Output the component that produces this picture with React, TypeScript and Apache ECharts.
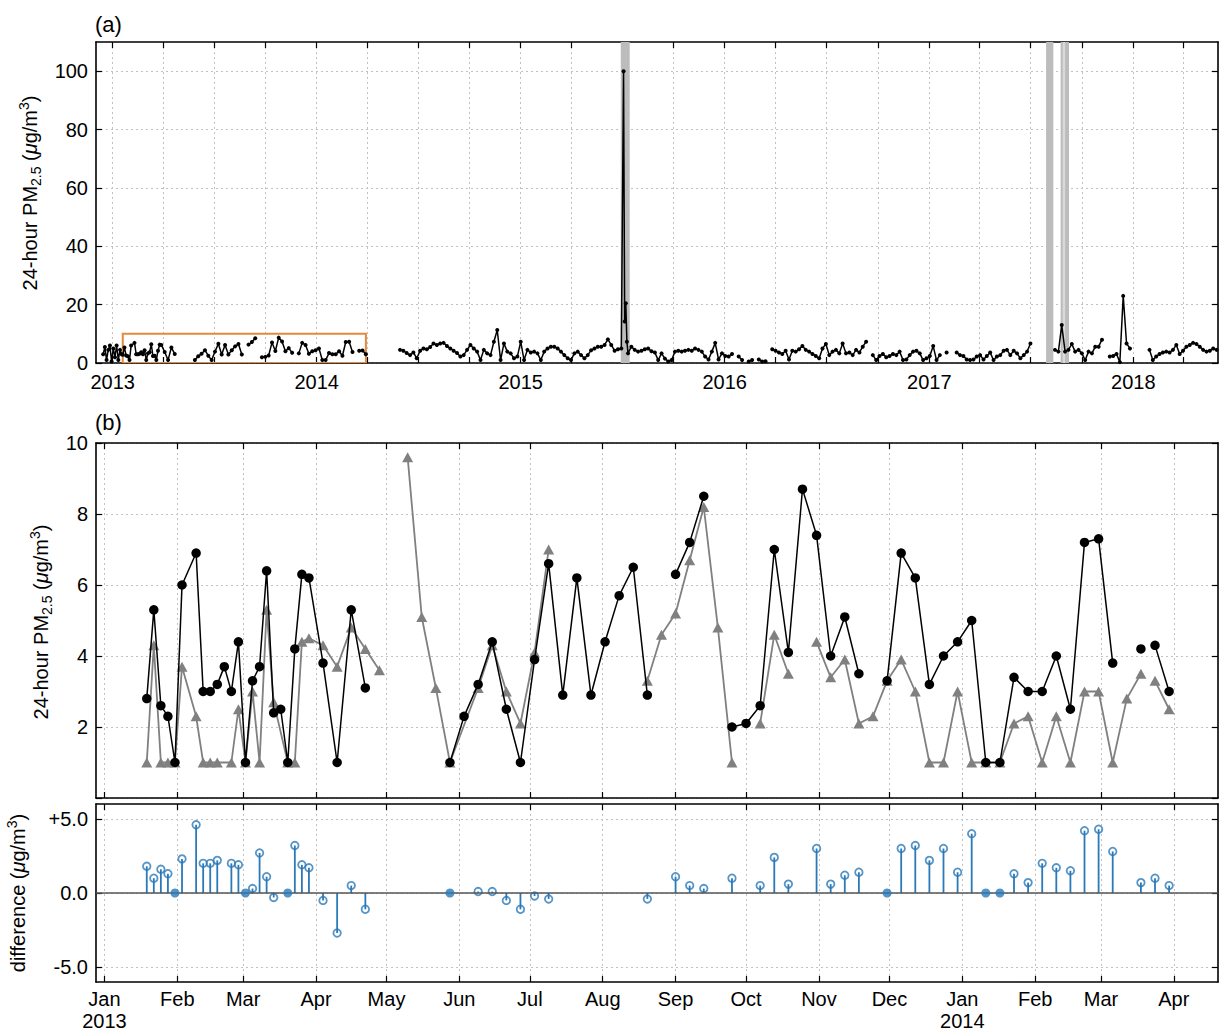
import React, { useEffect, useRef } from "react";
import * as echarts from "echarts";

const DAY = 86400000;
const T0 = Date.UTC(2013, 0, 1);
const FONT = "'Liberation Sans', Arial, Helvetica, sans-serif";
const BLUE = "#2a79b8";
const GRAY = "#808080";
const ORANGE = "#e38a3e";
const MONTHS = ["Jan", "Feb", "Mar", "Apr", "May", "Jun", "Jul", "Aug", "Sep", "Oct", "Nov", "Dec"];

// ---------- panel (b): sampling days counted from 2013-01-01 (null = gap in line)
const blackDays = [18, 21, 24, 27, 30, 33, 39, 42, 45, 48, 51, 54, 57, 60, 63, 66, 69, 72, 75, 78, 81, 84, 87, 93, 99, 105, 111, 114, 147, 153, 159, 165, 171, 177, 183, 189, 195, 201, 207, 213, 219, 225, 231, 237, 243, 249, 255, 261, 267, 273, 279, 285, 291, 297, 303, 309, 315, 321, 327, 333, 339, 345, 351, 357, 363, 369, 375, 381, 387, 393, 399, 405, 411, 417, 423, 429, 435, 441, 444, 447, 453];
const blackVals = [2.8, 5.3, 2.6, 2.3, 1.0, 6.0, 6.9, 3.0, 3.0, 3.2, 3.7, 3.0, 4.4, 1.0, 3.3, 3.7, 6.4, 2.4, 2.5, 1.0, 4.2, 6.3, 6.2, 3.8, 1.0, 5.3, 3.1, null, 1.0, 2.3, 3.2, 4.4, 2.5, 1.0, 3.9, 6.6, 2.9, 6.2, 2.9, 4.4, 5.7, 6.5, 2.9, null, 6.3, 7.2, 8.5, null, 2.0, 2.1, 2.6, 7.0, 4.1, 8.7, 7.4, 4.0, 5.1, 3.5, null, 3.3, 6.9, 6.2, 3.2, 4.0, 4.4, 5.0, 1.0, 1.0, 3.4, 3.0, 3.0, 4.0, 2.5, 7.2, 7.3, 3.8, null, 4.2, null, 4.3, 3.0];

const grayDays = [18, 21, 24, 27, 30, 33, 39, 42, 45, 48, 54, 57, 60, 63, 66, 69, 72, 78, 81, 84, 87, 93, 99, 105, 111, 117, 123, 129, 135, 141, 147, 159, 165, 171, 177, 183, 189, 195, 231, 237, 243, 249, 255, 261, 267, 270, 279, 285, 291, 297, 303, 309, 315, 321, 327, 333, 339, 345, 351, 357, 363, 369, 375, 381, 387, 393, 399, 405, 411, 417, 423, 429, 435, 441, 444, 447, 453];
const grayVals = [1.0, 4.3, 1.0, 1.0, 1.0, 3.7, 2.3, 1.0, 1.0, 1.0, 1.0, 2.5, 1.0, 3.0, 1.0, 5.3, 2.7, 1.0, 1.0, 4.4, 4.5, 4.3, 3.7, 4.8, 4.2, 3.6, null, 9.6, 5.1, 3.1, 1.0, 3.1, 4.3, 3.0, 2.1, 4.1, 7.0, null, 3.3, 4.6, 5.2, 6.7, 8.2, 4.8, 1.0, null, 2.1, 4.6, 3.5, null, 4.4, 3.4, 3.9, 2.1, 2.3, 3.3, 3.9, 3.0, 1.0, 1.0, 3.0, 1.0, 1.0, 1.0, 2.1, 2.3, 1.0, 2.3, 1.0, 3.0, 3.0, 1.0, 2.8, 3.5, null, 3.3, 2.5];

// ---------- panel (a): long record, segments with a start date and sampling step (days)
const aPreStart = "2012-12-15";
const aPreStep = 3;
const aPreVals = [3.0, 5.5, 1.0, 4.5, 6.0, 0.5, 5.0, 2.0, 6.0, 1.0, 4.5, 3.0];

const aGap1 = "2014-04-30";

const aSeg2Start = "2014-05-30";
const aSeg2Step = 6;
const aSeg2Vals = [4.5, 4.2, 3.4, 2.7, 3.6, 1.6, 4.2, 5.0, 4.7, 5.5, 6.7, 6.2,
  6.7, 6.9, 5.8, 5.0, 4.2, 3.4, 2.2, 2.7, 4.5, 6.2, 5.0, 3.9, 1.0, 4.5, 3.3, 2.7, 7.3, 11.3, 1.0, 6.7,
  3.9, 3.3, 1.6, 2.2, 7.3, 1.0, 4.5, 3.6, 3.9, 3.3, 1.0, 3.9, 5.0, 5.6, 5.6, 5.0, 3.9, 2.7, 1.6, 1.0,
  3.3, 3.9, 2.7, 1.6, 2.7, 4.4, 5.0, 5.6, 5.6, 6.2, 8.1, 6.2, 4.2, 4.7, 5.0];

const aSpikeDates = ["2015-07-04", "2015-07-06", "2015-07-08", "2015-07-10"];
const aSpikeVals = [100, 14.2, 20.5, 7.3];

const aSeg3Start = "2015-07-12";
const aSeg3Step = 6;
const aSeg3Vals = [3.3, 5.6, 4.5, 3.9, 4.2, 4.7, 5.0, 4.0, 3.6, 1.0,
  3.3, 1.5, 0.5, 1.0, 3.9, 4.2, 3.9, 4.2, 4.5, 4.2,
  5.0, 4.5, 3.9, 2.2, 1.2, 3.9, 6.9, 1.2, 3.3, 2.4,
  2.2, 3.1, null, 2.2, 1.0, null, 0.5, 1.0, null, 1.2,
  0.5, 0.6, null, 4.7, 4.2, 3.6, 3.1, 4.2, 1.2, 4.2,
  3.9, 4.7,
  5.8, 4.5, 3.9, 3.1, 2.4, 1.6, 5.0, 6.5, 2.7, 3.9,
  4.5, 3.3, 6.7, 3.3, 3.6, 2.7, 4.5, 3.6, 5.6, 7.3,
  null, 2.7, 1.0, 2.4, 3.1, 2.0, 2.4, 3.1, 2.7, 3.9,
  1.0, 1.2, 2.7, 3.9, 4.2, 3.3, 1.0, 1.6, 2.4, 5.8,
  1.0, 2.7, null, 3.6, null, null, 3.6, 2.7, 2.4, 1.2,
  1.0, 1.2, 2.2, 2.7, 1.2, 2.4, 3.6, 1.0, 2.2, 2.7,
  4.2, 4.5, 2.7, 4.2, 3.3, 1.6, 2.7, 3.9, 6.7];

const aSeg4Start = "2017-08-14";
const aSeg4Step = 6;
const aSeg4Vals = [4.5, 3.9, 13.0, 3.9, 4.5, 6.5, 3.9, 4.5, 3.3, 1.0, 3.9, 3.3, 5.6, 5.6, 8.0];

const aSeg5Start = "2017-11-20";
const aSeg5Step = 6;
const aSeg5Vals = [2.2, 2.4, 3.1, 0.3, 23.0, 6.7, 5.0];

const aSeg6Start = "2018-01-30";
const aSeg6Step = 6;
const aSeg6Vals = [4.5, 1.0, 2.2, 3.1, 3.6, 3.9, 3.6, 4.5, 6.2, 3.1, 4.2, 5.6, 6.2, 6.9, 6.5, 5.6, 4.5, 3.9, 4.2, 5.0, 4.5];

// shaded event periods in (a)
const darkBandStarts = ["2015-06-29", "2017-07-29", "2017-08-24", "2017-09-01"];
const darkBandEnds = ["2015-07-15", "2017-08-11", "2017-08-28", "2017-09-08"];
const lightBandStarts = ["2017-08-28"];
const lightBandEnds = ["2017-09-01"];

// axis ranges / ticks
const aYTicks = [0, 20, 40, 60, 80, 100];
const bYTicks = [0, 2, 4, 6, 8, 10];
const bYLabels = [2, 4, 6, 8, 10];
const cYTicks = [-5, 0, 5];
const aYears = [2013, 2014, 2015, 2016, 2017, 2018];
const aQuarterMonths = [0, 3, 6, 9];

const s2ts = (s: string) => {
  const [y, m, d] = s.split("-").map(Number);
  return Date.UTC(y, m - 1, d);
};
const d2ts = (d: number) => T0 + d * DAY;
const seg = (start: string, step: number, vals: (number | null)[]) =>
  vals.map((v, i) => [s2ts(start) + i * step * DAY, v]);

function buildOption() {
  const A_MIN = T0 - 29.9 * DAY;
  const A_MAX = T0 + 1977.6 * DAY;
  const B_MIN = T0 - 3.6 * DAY;
  const B_MAX = T0 + 473.8 * DAY;
  const A_YMAX = 110;
  const B_YMAX = 10;

  const quarterTicks: number[] = [];
  aYears.forEach((y) => aQuarterMonths.forEach((m) => {
    const t = Date.UTC(y, m, 1);
    if (t >= A_MIN && t <= A_MAX) quarterTicks.push(t);
  }));
  const yearTicks = aYears.map((y) => Date.UTC(y, 0, 1));
  const monthTicks: number[] = [];
  for (let i = 0; i < 16; i++) monthTicks.push(Date.UTC(2013, i, 1));

  const blackData = blackDays.map((d, i) => [d2ts(d), blackVals[i]]);
  const grayData = grayDays.map((d, i) => [d2ts(d), grayVals[i]]);

  const aData = [
    ...seg(aPreStart, aPreStep, aPreVals),
    ...blackData,
    [s2ts(aGap1), null],
    ...seg(aSeg2Start, aSeg2Step, aSeg2Vals),
    ...aSpikeDates.map((s, i) => [s2ts(s), aSpikeVals[i]]),
    ...seg(aSeg3Start, aSeg3Step, aSeg3Vals),
    [s2ts("2017-07-15"), null],
    ...seg(aSeg4Start, aSeg4Step, aSeg4Vals),
    [s2ts("2017-11-15"), null],
    ...seg(aSeg5Start, aSeg5Step, aSeg5Vals),
    [s2ts("2018-01-15"), null],
    ...seg(aSeg6Start, aSeg6Step, aSeg6Vals),
  ];

  const diffRows: number[][] = [];
  blackDays.forEach((d, i) => {
    const j = grayDays.indexOf(d);
    const b = blackVals[i];
    const g = j >= 0 ? grayVals[j] : null;
    if (b == null || g == null) return;
    diffRows.push([d2ts(d), Math.round((b - g) * 10) / 10]);
  });
  const diffOpen = diffRows.filter((r) => r[1] !== 0);
  const diffZero = diffRows.filter((r) => r[1] === 0);

  const boxData = [[d2ts(blackDays[0]), d2ts(blackDays[blackDays.length - 1])]];

  const split = { show: true, lineStyle: { color: "#c2c2c2", width: 1, type: [2, 3] } };
  const frame = { show: true, onZero: false, lineStyle: { color: "#000", width: 1.6 } };
  const tick = (vals: number[]) => ({
    show: true, inside: true, length: 6,
    lineStyle: { color: "#000", width: 1.2 }, customValues: vals,
  });
  const lbl = { fontFamily: FONT, fontSize: 20, color: "#000" };

  const xAx = (gridIndex: number, position: string, min: number, max: number, ticks: number[],
    labels: number[] | null, fmt: ((v: number) => string) | null, margin = 8) => ({
    type: "value", gridIndex, position, min, max,
    axisLine: frame,
    axisTick: tick(ticks),
    axisLabel: labels
      ? { show: true, customValues: labels, formatter: fmt, margin, lineHeight: 22, ...lbl }
      : { show: false },
    splitLine: position === "bottom" ? split : { show: false },
  });
  const yAx = (gridIndex: number, position: string, min: number, max: number, ticks: number[],
    labels: number[] | null, fmt: ((v: number) => string) | null) => ({
    type: "value", gridIndex, position, min, max,
    axisLine: frame,
    axisTick: tick(ticks),
    axisLabel: labels ? { show: true, customValues: labels, formatter: fmt, margin: 8, ...lbl } : { show: false },
    splitLine: position === "left" ? split : { show: false },
  });

  const yearFmt = (v: number) => String(new Date(v).getUTCFullYear());
  const monthFmt = (v: number) => {
    const dt = new Date(v);
    const m = dt.getUTCMonth();
    return m === 0 ? `${MONTHS[m]}\n${dt.getUTCFullYear()}` : MONTHS[m];
  };
  const numFmt = (v: number) => String(v);
  const diffFmt = (v: number) => (v > 0 ? "+" + v.toFixed(1) : v.toFixed(1));

  const bandRender = (fill: string, ymax: number) => (params: any, api: any) => {
    const p0 = api.coord([api.value(0), ymax]);
    const p1 = api.coord([api.value(1), 0]);
    return {
      type: "rect",
      shape: { x: p0[0], y: p0[1], width: p1[0] - p0[0], height: p1[1] - p0[1] },
      style: { fill },
    };
  };

  const titleRich = {
    n: { fontFamily: FONT, fontSize: 20, lineHeight: 26, fill: "#000" },
    i: { fontFamily: FONT, fontSize: 20, lineHeight: 26, fontStyle: "italic", fill: "#000" },
    s: { fontFamily: FONT, fontSize: 14, lineHeight: 14, verticalAlign: "bottom", fill: "#000" },
    p: { fontFamily: FONT, fontSize: 14, lineHeight: 14, verticalAlign: "top", fill: "#000" },
  };
  const pmTitle = "{n|24-hour PM}{s|2.5}{n| (}{i|\u03bc}{n|g/m}{p|3}{n|)}";
  const diffTitle = "{n|difference (}{i|\u03bc}{n|g/m}{p|3}{n|)}";

  return {
    animation: false,
    backgroundColor: "#fff",
    grid: [
      { left: 96, top: 42, width: 1122, height: 321 },
      { left: 96, top: 443, width: 1122, height: 355 },
      { left: 96, top: 804, width: 1122, height: 178 },
    ],
    xAxis: [
      xAx(0, "bottom", A_MIN, A_MAX, quarterTicks, yearTicks, yearFmt),
      xAx(0, "top", A_MIN, A_MAX, quarterTicks, null, null),
      xAx(1, "bottom", B_MIN, B_MAX, monthTicks, null, null),
      xAx(1, "top", B_MIN, B_MAX, monthTicks, null, null),
      xAx(2, "bottom", B_MIN, B_MAX, monthTicks, monthTicks, monthFmt, 6),
      xAx(2, "top", B_MIN, B_MAX, monthTicks, null, null),
    ],
    yAxis: [
      yAx(0, "left", 0, A_YMAX, aYTicks, aYTicks, numFmt),
      yAx(0, "right", 0, A_YMAX, aYTicks, null, null),
      yAx(1, "left", 0, B_YMAX, bYTicks, bYLabels, numFmt),
      yAx(1, "right", 0, B_YMAX, bYTicks, null, null),
      yAx(2, "left", -6, 6, cYTicks, cYTicks, diffFmt),
      yAx(2, "right", -6, 6, cYTicks, null, null),
    ],
    graphic: [
      { type: "text", x: 95, y: 13, style: { text: "(a)", fontFamily: FONT, fontSize: 22, fill: "#000" } },
      { type: "text", x: 95, y: 411, style: { text: "(b)", fontFamily: FONT, fontSize: 22, fill: "#000" } },
      { type: "text", x: 30, y: 193, rotation: Math.PI / 2, style: { text: pmTitle, rich: titleRich, align: "center", verticalAlign: "middle" } },
      { type: "text", x: 41, y: 622, rotation: Math.PI / 2, style: { text: pmTitle, rich: titleRich, align: "center", verticalAlign: "middle" } },
      { type: "text", x: 18, y: 893, rotation: Math.PI / 2, style: { text: diffTitle, rich: titleRich, align: "center", verticalAlign: "middle" } },
    ],
    series: [
      // (a) shaded periods
      {
        type: "custom", xAxisIndex: 0, yAxisIndex: 0, z: 1, clip: true, silent: true,
        data: lightBandStarts.map((s, i) => [s2ts(s), s2ts(lightBandEnds[i])]),
        renderItem: bandRender("#d9d9d9", A_YMAX),
      },
      {
        type: "custom", xAxisIndex: 0, yAxisIndex: 0, z: 1, clip: true, silent: true,
        data: darkBandStarts.map((s, i) => [s2ts(s), s2ts(darkBandEnds[i])]),
        renderItem: bandRender("#bcbcbc", A_YMAX),
      },
      // (a) zoom box
      {
        type: "custom", xAxisIndex: 0, yAxisIndex: 0, z: 2, clip: true, silent: true,
        data: boxData,
        renderItem: (params: any, api: any) => {
          const p0 = api.coord([api.value(0), B_YMAX]);
          const p1 = api.coord([api.value(1), 0]);
          return {
            type: "rect",
            shape: { x: p0[0], y: p0[1], width: p1[0] - p0[0], height: p1[1] - p0[1] },
            style: { fill: "none", stroke: ORANGE, lineWidth: 2 },
          };
        },
      },
      // (a) series
      {
        type: "line", xAxisIndex: 0, yAxisIndex: 0, z: 3, data: aData,
        symbol: "circle", symbolSize: 4, showAllSymbol: true, connectNulls: false,
        lineStyle: { color: "#000", width: 1.5 }, itemStyle: { color: "#000" },
      },
      // (b) gray series
      {
        type: "line", xAxisIndex: 2, yAxisIndex: 2, z: 3, data: grayData,
        symbol: "triangle", symbolSize: [11, 10], showAllSymbol: true, connectNulls: false,
        lineStyle: { color: GRAY, width: 1.8 }, itemStyle: { color: GRAY },
      },
      // (b) black series
      {
        type: "line", xAxisIndex: 2, yAxisIndex: 2, z: 4, data: blackData,
        symbol: "circle", symbolSize: 9.5, showAllSymbol: true, connectNulls: false,
        lineStyle: { color: "#000", width: 1.5 }, itemStyle: { color: "#000" },
      },
      // (c) stems + zero line
      {
        type: "custom", xAxisIndex: 4, yAxisIndex: 4, z: 2, clip: true, silent: true,
        data: diffRows,
        renderItem: (params: any, api: any) => {
          const p0 = api.coord([api.value(0), 0]);
          const p1 = api.coord([api.value(0), api.value(1)]);
          return {
            type: "line",
            shape: { x1: p0[0], y1: p0[1], x2: p1[0], y2: p1[1] },
            style: { stroke: BLUE, lineWidth: 1.8 },
          };
        },
        markLine: {
          silent: true, symbol: ["none", "none"], label: { show: false },
          lineStyle: { color: "#555", width: 1.5, type: "solid" },
          data: [{ yAxis: 0 }],
        },
      },
      {
        type: "scatter", xAxisIndex: 4, yAxisIndex: 4, z: 4, data: diffOpen,
        symbol: "circle", symbolSize: 7.5,
        itemStyle: { color: "rgba(255,255,255,0)", borderColor: BLUE, borderWidth: 1.8 },
      },
      {
        type: "scatter", xAxisIndex: 4, yAxisIndex: 4, z: 5, data: diffZero,
        symbol: "circle", symbolSize: 9, itemStyle: { color: BLUE },
      },
    ],
  };
}

export default function App() {
  const ref = useRef<HTMLDivElement>(null);
  useEffect(() => {
    document.body.style.margin = "0";
    const chart = echarts.init(ref.current!, null, { renderer: "svg" });
    chart.setOption(buildOption() as any);
    return () => chart.dispose();
  }, []);
  return <div ref={ref} style={{ width: 1220, height: 1032 }} />;
}
